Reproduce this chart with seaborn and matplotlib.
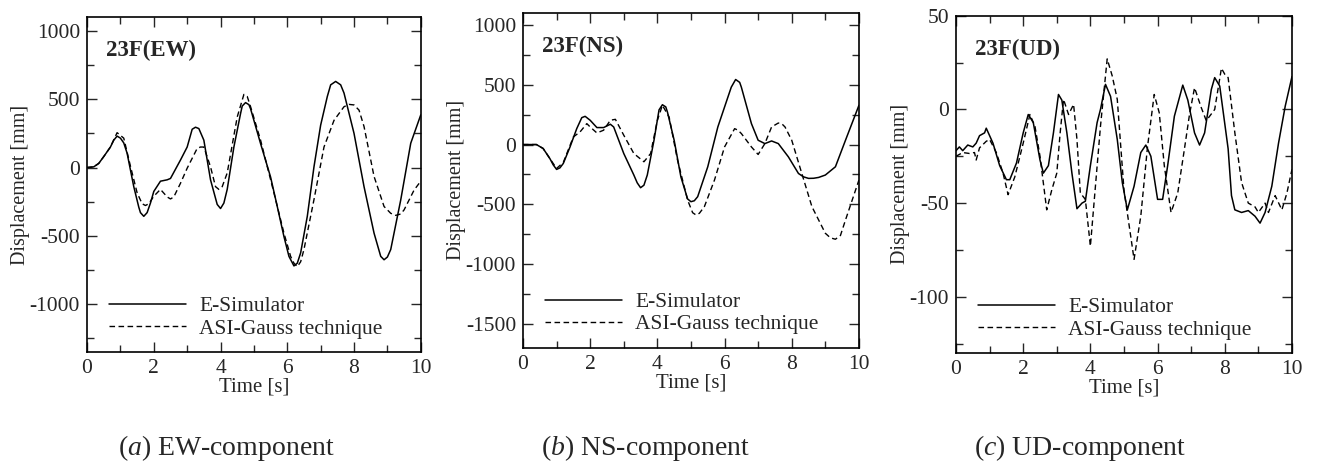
import numpy as np
import pandas as pd
import matplotlib
matplotlib.use("Agg")
import matplotlib.pyplot as plt
import seaborn as sns
from matplotlib.ticker import MultipleLocator

# ---- data (time [s], displacement [mm]) ----
# (a) EW component
ew_sim_t = [0, 0.2, 0.35, 0.5, 0.7, 0.8, 0.9, 1.0, 1.1, 1.2, 1.4, 1.55, 1.6, 1.7, 1.8, 1.9, 2.0, 2.2,
            2.4, 2.5, 2.8, 3.0, 3.15, 3.25, 3.35, 3.5, 3.7, 3.9, 4.0, 4.1, 4.2, 4.4, 4.6, 4.65, 4.75,
            4.85, 4.9, 5.2, 5.5, 5.7, 5.9, 6.05, 6.2, 6.3, 6.4, 6.6, 6.8, 7.0, 7.2, 7.3, 7.45, 7.6,
            7.7, 8.0, 8.3, 8.6, 8.8, 8.9, 9.0, 9.1, 9.4, 9.7, 10.0]
ew_sim = [0, 5, 30, 80, 150, 200, 230, 215, 180, 105, -140, -290, -330, -357, -330, -260, -175, -100,
          -90, -80, 55, 150, 280, 295, 285, 200, -90, -270, -300, -260, -160, 150, 395, 450, 475,
          460, 430, 175, -70, -285, -505, -650, -720, -700, -625, -357, 5, 310, 520, 605, 630, 605,
          545, 250, -140, -480, -650, -675, -655, -600, -237, 178, 385]
ew_asi_t = [0, 0.2, 0.35, 0.5, 0.7, 0.9, 1.1, 1.3, 1.5, 1.65, 1.75, 1.85, 2.0, 2.2, 2.4, 2.5, 2.6, 2.8,
            3.0, 3.3, 3.4, 3.5, 3.7, 3.85, 3.95, 4.05, 4.2, 4.5, 4.7, 4.8, 4.9, 5.2, 5.6, 5.9, 6.1,
            6.2, 6.3, 6.4, 6.5, 6.8, 7.1, 7.4, 7.7, 7.85, 8.0, 8.15, 8.3, 8.6, 8.9, 9.1, 9.25, 9.4,
            9.5, 9.8, 10.0]
ew_asi = [0, 5, 30, 80, 150, 255, 215, 10, -185, -265, -278, -265, -210, -160, -215, -230, -215, -115,
          -5, 140, 150, 150, 5, -140, -160, -140, -40, 370, 535, 520, 445, 200, -185, -480, -650,
          -700, -725, -690, -600, -235, 150, 345, 445, 462, 458, 420, 300, -65, -285, -335, -350, -340,
          -310, -165, -100]

# (b) NS component
ns_sim_t = [0, 0.4, 0.6, 0.8, 0.9, 1.0, 1.1, 1.2, 1.4, 1.6, 1.75, 1.85, 2.0, 2.2, 2.4, 2.6, 2.7, 3.0,
            3.3, 3.4, 3.5, 3.6, 3.7, 3.9, 4.05, 4.15, 4.25, 4.3, 4.5, 4.7, 4.9, 5.0, 5.1, 5.2, 5.5,
            5.8, 6.1, 6.2, 6.33, 6.45, 6.5, 6.8, 7.0, 7.2, 7.4, 7.6, 7.9, 8.2, 8.35, 8.5, 8.65, 8.8,
            9.0, 9.3, 9.6, 10.0]
ns_sim = [0, 0, -33, -117, -170, -208, -195, -158, -20, 133, 225, 236, 203, 142, 142, 170, 147, -75,
          -255, -320, -361, -340, -255, 36, 290, 333, 315, 272, 36, -270, -455, -478, -470, -436, -186,
          147, 397, 480, 544, 520, 480, 175, 36, 8, 30, 8, -103, -242, -270, -283, -282, -275,
          -255, -186, 36, 328]
ns_asi_t = [0, 0.4, 0.6, 0.8, 1.0, 1.2, 1.5, 1.7, 1.9, 2.0, 2.2, 2.4, 2.6, 2.75, 3.0, 3.3, 3.6, 3.8,
            4.0, 4.15, 4.35, 4.6, 4.9, 5.05, 5.15, 5.25, 5.4, 5.7, 6.0, 6.3, 6.4, 6.5, 6.8, 7.0, 7.2,
            7.4, 7.6, 7.7, 7.8, 8.0, 8.3, 8.6, 9.0, 9.15, 9.3, 9.45, 9.6, 9.8, 10.0]
ns_asi = [0, 0, -33, -117, -200, -150, 64, 106, 175, 147, 97, 120, 203, 211, 78, -75, -144, -75,
          203, 328, 230, -130, -464, -570, -589, -575, -519, -297, -20, 133, 120, 92, -20, -83, 8,
          147, 180, 175, 147, 36, -242, -519, -742, -780, -792, -760, -631, -464, -297]

# (c) UD component
ud_sim_t = [0, 0.1, 0.2, 0.35, 0.5, 0.6, 0.7, 0.85, 0.9, 1.0, 1.1, 1.3, 1.5, 1.6, 1.8, 2.0, 2.15, 2.3,
            2.5, 2.6, 2.75, 2.9, 3.05, 3.15, 3.3, 3.45, 3.6, 3.75, 3.85, 4.0, 4.2, 4.3, 4.45, 4.6, 4.8,
            4.95, 5.1, 5.3, 5.5, 5.65, 5.8, 6.0, 6.15, 6.3, 6.5, 6.75, 6.9, 7.1, 7.25, 7.4, 7.6, 7.7,
            7.85, 8.1, 8.2, 8.3, 8.5, 8.7, 8.9, 9.05, 9.2, 9.4, 9.6, 9.8, 10.0]
ud_sim = [-22, -20, -22, -19, -20, -18, -14, -12.5, -10, -14, -18, -30, -37.5, -37.5, -28.6, -12.5, -2.7, -7,
          -27, -34, -30, -12.5, 8, 5, -12.5, -34, -53, -50, -49, -30, -7, 0, 13.4, 7, -16,
          -39, -53.6, -41, -23, -19, -25, -48, -48, -30, -3.6, 13, 5, -12.5, -19, -12.5, 10.7, 17,
          12.5, -21, -46, -53.6, -55, -54, -57, -60.7, -55, -41, -18, 1.8, 17.5]
ud_asi_t = [0, 0.2, 0.4, 0.55, 0.6, 0.7, 0.9, 1.0, 1.2, 1.4, 1.55, 1.75, 2.0, 2.2, 2.35, 2.5, 2.7, 2.85,
            3.0, 3.1, 3.2, 3.35, 3.5, 3.6, 3.7, 3.85, 4.0, 4.15, 4.3, 4.5, 4.65, 4.8, 5.0, 5.3, 5.5,
            5.7, 5.9, 6.05, 6.2, 6.4, 6.6, 6.8, 6.95, 7.1, 7.3, 7.45, 7.7, 7.9, 8.0, 8.1, 8.3, 8.5,
            8.7, 8.9, 9.0, 9.2, 9.3, 9.5, 9.7, 9.85, 10.0]
ud_asi = [-25, -23, -23.5, -23, -27, -20.5, -17, -16, -23, -34, -45.5, -36, -18, -2.7, -9, -25, -53.6, -43,
          -34, -12.5, 5.4, -2.7, 2.7, -16, -44.6, -48, -73, -41, -9, 27, 17.9, 5.4, -43, -80, -57,
          -20, 8, -1.8, -30, -55, -44.6, -21, -2.7, 11.6, 1, -6, 0, 22, 18.8, 17, -12.5, -39,
          -50, -52, -55, -50, -55, -46, -53.6, -44.6, -32]

panel_tags = ["23F(EW)", "23F(NS)", "23F(UD)"]
captions = [r"$\mathit{(a)}$ EW-component", r"$\mathit{(b)}$ NS-component", r"$\mathit{(c)}$ UD-component"]
series_names = ["E-Simulator", "ASI-Gauss technique"]

# ---- style ----
sns.set_style("ticks")
plt.rcParams["font.family"] = ["Liberation Serif", "DejaVu Serif"]
plt.rcParams["mathtext.fontset"] = "custom"
plt.rcParams["mathtext.it"] = "Liberation Serif:italic"
plt.rcParams["mathtext.rm"] = "Liberation Serif"
plt.rcParams["axes.unicode_minus"] = False

fig = plt.figure(figsize=(13.19, 4.65), dpi=100)

# axes boxes in figure fraction (left, bottom, width, height)
boxes = [(0.066, 0.243, 0.253, 0.720),
         (0.3965, 0.252, 0.2547, 0.720),
         (0.7248, 0.241, 0.2547, 0.725)]
ylims = [(-1350, 1100), (-1700, 1100), (-130, 50)]
ymajor = [500, 500, 50]
yminor = [250, 250, 25]
caption_x = [226 / 1319, 646 / 1319, 1080 / 1319]

panels = [
    (ew_sim_t, ew_sim, ew_asi_t, ew_asi),
    (ns_sim_t, ns_sim, ns_asi_t, ns_asi),
    (ud_sim_t, ud_sim, ud_asi_t, ud_asi),
]

for i, (t1, y1, t2, y2) in enumerate(panels):
    ax = fig.add_axes(boxes[i])
    df1 = pd.DataFrame({"t": t1, "d": y1})
    df2 = pd.DataFrame({"t": t2, "d": y2})
    sns.lineplot(data=df1, x="t", y="d", ax=ax, color="black", lw=1.1,
                 estimator=None, sort=False, label=series_names[0])
    sns.lineplot(data=df2, x="t", y="d", ax=ax, color="black", lw=1.0,
                 linestyle=(0, (4, 2.5)), estimator=None, sort=False, label=series_names[1])

    ax.set_xlim(0, 10)
    ax.set_ylim(*ylims[i])
    ax.xaxis.set_major_locator(MultipleLocator(2))
    ax.xaxis.set_minor_locator(MultipleLocator(1))
    ax.yaxis.set_major_locator(MultipleLocator(ymajor[i]))
    ax.yaxis.set_minor_locator(MultipleLocator(yminor[i]))
    ax.tick_params(which="both", direction="in", top=True, right=True, labelsize=15.5, width=1.0)
    ax.tick_params(which="major", length=7, pad=5)
    ax.tick_params(which="minor", length=5)
    for sp in ax.spines.values():
        sp.set_linewidth(1.2)
        sp.set_color("black")

    ax.set_xlabel("Time [s]", fontsize=15, labelpad=0)
    ax.set_ylabel("Displacement [mm]", fontsize=14.5, labelpad=0)
    ax.text(0.057, 0.9, panel_tags[i], transform=ax.transAxes, fontsize=16.5,
            fontweight="bold", ha="left", va="center")

    ax.legend(loc="lower left", frameon=False, fontsize=15.5, handlelength=3.6,
              handletextpad=0.6, labelspacing=0.1, borderaxespad=0.3,
              bbox_to_anchor=(0.02, -0.005))

    fig.text(caption_x[i], 1 - 455 / 465, captions[i], fontsize=20, ha="center", va="baseline")

fig.savefig("out.png", dpi=100)
